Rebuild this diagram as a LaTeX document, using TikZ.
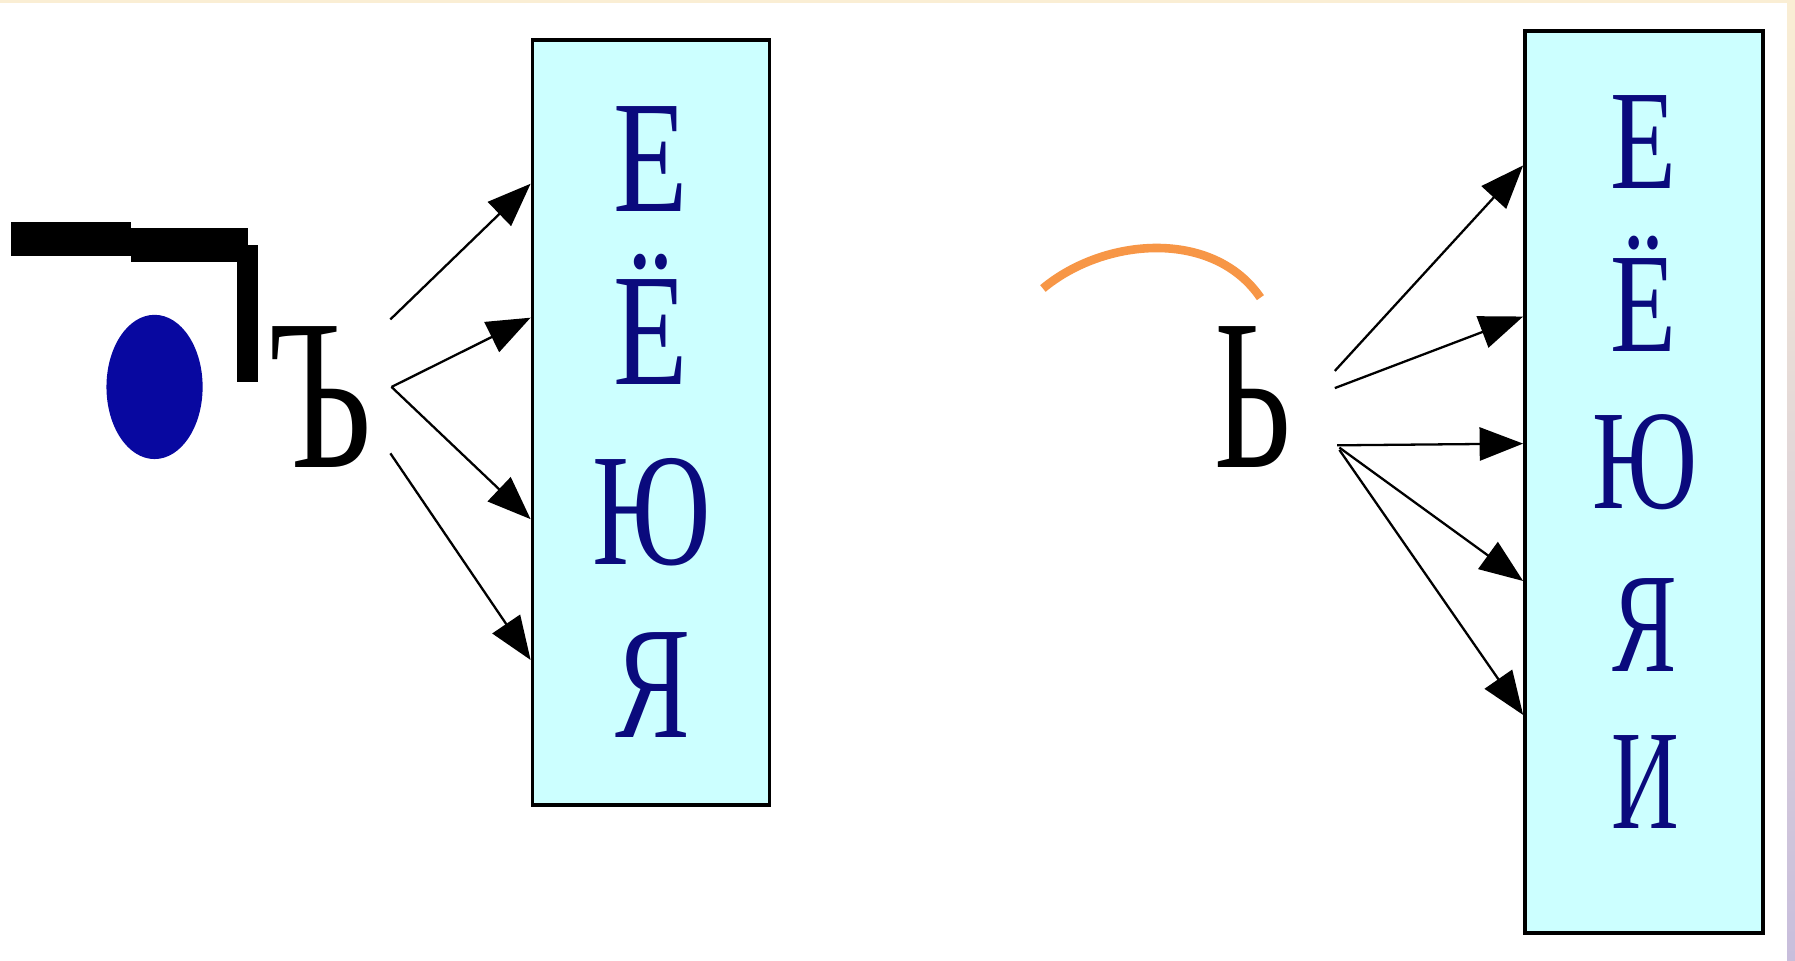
\documentclass[tikz,border=0pt]{standalone}
\usepackage{fontspec}
\setmainfont{Liberation Serif}
\usetikzlibrary{arrows.meta,calc}
\definecolor{boxfill}{RGB}{204,255,255}
\definecolor{letterblue}{RGB}{10,10,125}
\definecolor{dotblue}{RGB}{8,8,160}
\definecolor{arcorange}{RGB}{247,150,70}
\definecolor{stripbeige}{RGB}{250,238,212}
\definecolor{striplav}{RGB}{200,190,220}
\begin{document}
\begin{tikzpicture}[x=1pt,y=-1pt,
  letterbox/.style={draw=black,line width=3pt,fill=boxfill,inner sep=0pt},
  bigvowel/.style={inner sep=0pt,anchor=base,text=letterblue,font=\fontsize{140}{140}\selectfont},
  smallvowel/.style={inner sep=0pt,anchor=base,text=letterblue,font=\fontsize{124}{124}\selectfont},
  signletter/.style={inner sep=0pt,anchor=base,text=black,font=\fontsize{188}{188}\selectfont},
  pointer/.style={line width=2pt,-{Triangle[length=38pt,width=29pt]}},
  blackbar/.style={fill=black}]
\useasboundingbox (0,0) rectangle (1568,839);
\fill[white] (0,0) rectangle (1568,839);
\fill[stripbeige] (0,0) rectangle (1568,2.7);
\shade[top color=stripbeige,bottom color=striplav] (1561,0) rectangle (1568,839);

% boxes
\node[letterbox,minimum width=207pt,minimum height=668pt] (L) at (568.5,369) {};
\node[letterbox,minimum width=208pt,minimum height=788pt] (R) at (1436,421) {};

% left box letters
\node[bigvowel] (l1) at (568,185) {\scalebox{0.76}[1]{Е}};
\node[bigvowel] (l2) at (568,336) {\scalebox{0.76}[1]{Ё}};
\node[bigvowel] (l3) at (569,493) {\scalebox{0.72}[1]{Ю}};
\node[bigvowel] (l4) at (570,644) {\scalebox{0.7}[1]{Я}};

% right box letters
\node[smallvowel] (r1) at (1436,165) {\scalebox{0.76}[1]{Е}};
\node[smallvowel] (r2) at (1436,307) {\scalebox{0.76}[1]{Ё}};
\node[smallvowel] (r3) at (1437,444) {\scalebox{0.72}[1]{Ю}};
\node[smallvowel] (r4) at (1437,587) {\scalebox{0.68}[1]{Я}};
\node[smallvowel] (r5) at (1437,724) {\scalebox{0.66}[1]{И}};

% hard sign with mark
\fill[blackbar] (10,194) rectangle (114,224);
\fill[blackbar] (114,199) rectangle (217,229);
\fill[blackbar] (207,214) rectangle (225,334);
\fill[dotblue] (135,338) ellipse [x radius=42, y radius=63];
\node[signletter] (hs) at (280,408) {\scalebox{0.68}[1]{Ъ}};

% soft sign with arc
\draw[arcorange,line width=7.5pt] (911,252) .. controls (965,207) and (1060,200) .. (1101,260);
\node[signletter] (ss) at (1094,408) {\scalebox{0.62}[1]{Ь}};

% left arrows
\coordinate (hsA) at (341,279);
\coordinate (hsB) at (342,338);
\coordinate (hsC) at (341,396);
\coordinate (lt1) at ($(L.north west)+(0,127)$);
\coordinate (lt2) at ($(L.north west)+(0,244)$);
\coordinate (lt3) at ($(L.north west)+(0,420)$);
\coordinate (lt4) at ($(L.north west)+(0,543)$);
\draw[pointer] (hsA) -- (lt1);
\draw[pointer] (hsB) -- (lt2);
\draw[pointer] (hsB) -- (lt3);
\draw[pointer] (hsC) -- (lt4);

% right arrows
\coordinate (ssA) at (1166,324);
\coordinate (ssB) at (1166,339);
\coordinate (ssC) at (1168,389);
\coordinate (ssD) at (1170,391);
\coordinate (ssE) at (1170,393);
\coordinate (rt1) at ($(R.north west)+(0,119)$);
\coordinate (rt2) at ($(R.north west)+(0,251)$);
\coordinate (rt3) at ($(R.north west)+(0,362)$);
\coordinate (rt4) at ($(R.north west)+(0,482)$);
\coordinate (rt5) at ($(R.north west)+(0,599)$);
\draw[pointer] (ssA) -- (rt1);
\draw[pointer] (ssB) -- (rt2);
\draw[pointer] (ssC) -- (rt3);
\draw[pointer] (ssD) -- (rt4);
\draw[pointer] (ssE) -- (rt5);
\end{tikzpicture}
\end{document}
